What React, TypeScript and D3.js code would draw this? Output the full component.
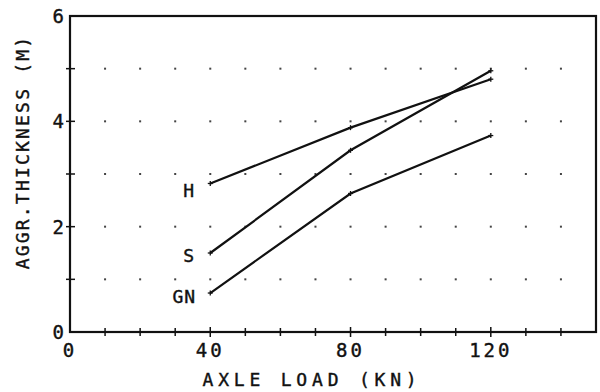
import React from "react";
import * as d3 from "d3";

const loads = [40, 80, 120];
const seriesH = [2.82, 3.88, 4.8];
const seriesS = [1.5, 3.45, 4.96];
const seriesGN = [0.74, 2.63, 3.73];
const seriesNames = ["H", "S", "GN"];
const xTickLabels = [0, 40, 80, 120];
const yTickLabels = [0, 2, 4, 6];

const W = 600;
const H = 392;
const FONT = "'DejaVu Sans Mono', monospace";

export default function App() {
  const x = d3.scaleLinear().domain([0, 150]).range([70, 596]);
  const y = d3.scaleLinear().domain([0, 6]).range([332, 16]);
  const line = d3
    .line<number>()
    .x((_, i) => x(loads[i]))
    .y((d) => y(d));
  const all = [seriesH, seriesS, seriesGN];
  const labelOffsets = [
    { dx: -21, dy: 14 },
    { dx: -21, dy: 9 },
    { dx: -26, dy: 10 },
  ];
  const gridX = d3.range(10, 150, 10);
  const gridY = d3.range(1, 6, 1);
  const minorX = d3.range(10, 150, 10);
  const textStyle = { stroke: "#111", strokeWidth: 0.4 };
  return (
    <svg
      width={W}
      height={H}
      style={{ position: "absolute", left: 0, top: 0, background: "#fff" }}
    >
      <rect x={0} y={0} width={W} height={H} fill="#fff" />
      {gridY.map((gy) =>
        gridX.map((gx) => (
          <rect
            key={`d${gx}-${gy}`}
            x={x(gx) - 1}
            y={y(gy) - 1}
            width={2}
            height={2}
            fill="#444"
          />
        ))
      )}
      <rect
        x={x(0)}
        y={y(6)}
        width={x(150) - x(0)}
        height={y(0) - y(6)}
        fill="none"
        stroke="#111"
        strokeWidth={2.2}
      />
      {minorX.map((t) => (
        <line
          key={`xt${t}`}
          x1={x(t)}
          x2={x(t)}
          y1={y(0) - (t % 40 === 0 ? 5 : 4)}
          y2={y(0) + (t % 40 === 0 ? 5 : 4)}
          stroke="#111"
          strokeWidth={1.5}
        />
      ))}
      {d3.range(1, 6, 1).map((t) => (
        <line
          key={`yt${t}`}
          x1={x(0) - 4}
          x2={x(0) + 5}
          y1={y(t)}
          y2={y(t)}
          stroke="#111"
          strokeWidth={1.5}
        />
      ))}
      {xTickLabels.map((t) => (
        <text
          key={`xl${t}`}
          x={x(t)}
          y={357}
          textAnchor="middle"
          fontFamily={FONT}
          fontSize={19}
          letterSpacing={3}
          fill="#111"
          style={textStyle}
        >
          {t}
        </text>
      ))}
      {yTickLabels.map((t) => (
        <text
          key={`yl${t}`}
          x={x(0) - 6}
          y={y(t) + 7}
          textAnchor="end"
          fontFamily={FONT}
          fontSize={19}
          fill="#111"
          style={textStyle}
        >
          {t}
        </text>
      ))}
      {all.map((s, i) => (
        <g key={`s${i}`}>
          <path d={line(s) || ""} fill="none" stroke="#111" strokeWidth={2.2} />
          {s.map((v, j) => (
            <g key={`m${i}-${j}`}>
              <line
                x1={x(loads[j]) - 2.5}
                x2={x(loads[j]) + 2.5}
                y1={y(v)}
                y2={y(v)}
                stroke="#111"
                strokeWidth={1.3}
              />
              <line
                x1={x(loads[j])}
                x2={x(loads[j])}
                y1={y(v) - 2.5}
                y2={y(v) + 2.5}
                stroke="#111"
                strokeWidth={1.3}
              />
            </g>
          ))}
          <text
            x={x(loads[0]) + labelOffsets[i].dx}
            y={y(s[0]) + labelOffsets[i].dy}
            textAnchor="middle"
            fontFamily={FONT}
            fontSize={18}
            letterSpacing={1}
            fill="#111"
            style={textStyle}
          >
            {seriesNames[i]}
          </text>
        </g>
      ))}
      <text
        x={312}
        y={386}
        textAnchor="middle"
        fontFamily={FONT}
        fontSize={18}
        letterSpacing={4.8}
        fill="#111"
        style={textStyle}
      >
        AXLE LOAD (KN)
      </text>
      <text
        transform="translate(29,152) rotate(-90)"
        textAnchor="middle"
        fontFamily={FONT}
        fontSize={18}
        letterSpacing={2.2}
        fill="#111"
        style={textStyle}
      >
        AGGR.THICKNESS (M)
      </text>
    </svg>
  );
}
